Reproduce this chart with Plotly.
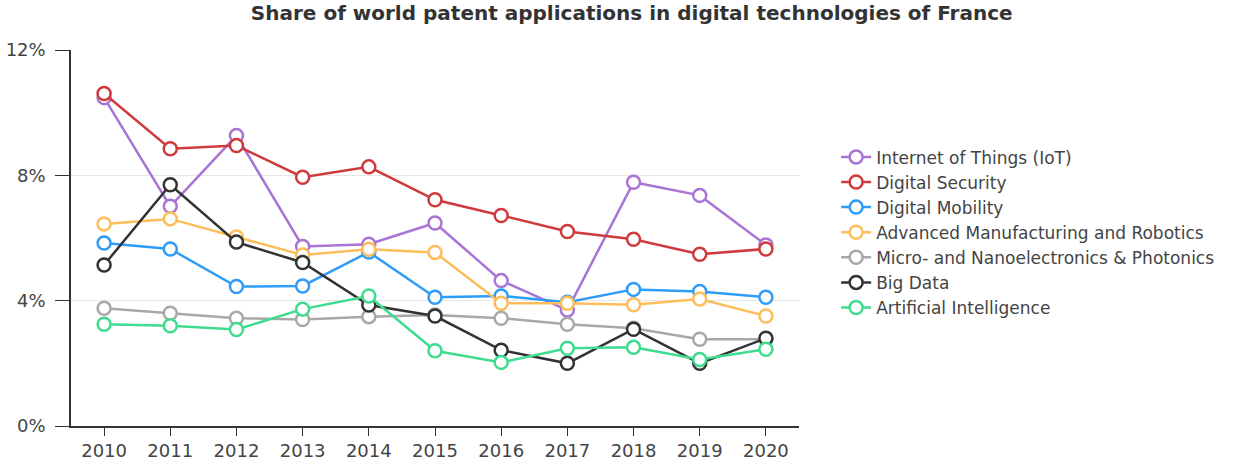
import plotly.graph_objects as go

years = [2010, 2011, 2012, 2013, 2014, 2015, 2016, 2017, 2018, 2019, 2020]

names = [
    "Internet of Things (IoT)",
    "Digital Security",
    "Digital Mobility",
    "Advanced Manufacturing and Robotics",
    "Micro- and Nanoelectronics & Photonics",
    "Big Data",
    "Artificial Intelligence",
]

iot = [10.48, 7.01, 9.27, 5.73, 5.80, 6.48, 4.64, 3.70, 7.78, 7.36, 5.78]
security = [10.61, 8.85, 8.95, 7.94, 8.27, 7.22, 6.72, 6.21, 5.96, 5.48, 5.65]
mobility = [5.84, 5.65, 4.45, 4.47, 5.55, 4.11, 4.15, 3.95, 4.36, 4.29, 4.11]
manufacturing = [6.45, 6.61, 6.03, 5.46, 5.64, 5.54, 3.92, 3.92, 3.87, 4.05, 3.51]
micro_nano = [3.76, 3.60, 3.44, 3.40, 3.49, 3.54, 3.44, 3.25, 3.12, 2.77, 2.77]
big_data = [5.14, 7.70, 5.87, 5.22, 3.86, 3.51, 2.42, 2.00, 3.09, 2.00, 2.80]
ai = [3.25, 3.20, 3.08, 3.73, 4.15, 2.40, 2.03, 2.48, 2.51, 2.12, 2.45]

y_ticks = [0, 4, 8, 12]
y_tick_labels = ["0%", "4%", "8%", "12%"]

series = [iot, security, mobility, manufacturing, micro_nano, big_data, ai]
colors = ["#a974d5", "#cf3a3c", "#2f9cf9", "#fdbd5b", "#a8a8a8", "#333333", "#3ddc8f"]

fig = go.Figure()
for name, vals, col in zip(names, series, colors):
    fig.add_trace(go.Scatter(
        x=years, y=vals, name=name, mode="lines+markers",
        line=dict(color=col, width=2.5),
        marker=dict(size=13, color="white", line=dict(color=col, width=2.5)),
    ))

font = "DejaVu Sans, Verdana, sans-serif"
fig.update_layout(
    width=1251, height=464,
    margin=dict(l=71, r=452, t=50, b=38),
    paper_bgcolor="white", plot_bgcolor="white",
    font=dict(family=font, size=18, color="#444"),
    title=dict(text="<b>Share of world patent applications in digital technologies of France</b>",
               x=0.505, xanchor="center", y=0.972, yanchor="middle",
               font=dict(size=20, color="#333")),
    legend=dict(x=1.051, xanchor="left", y=0.515, yanchor="middle",
                font=dict(size=17, color="#444"), tracegroupgap=0,
                bgcolor="rgba(0,0,0,0)"),
    showlegend=True,
)
fig.update_xaxes(range=[2009.5, 2020.5], tickvals=years, showgrid=False,
                 showline=True, linecolor="#333", linewidth=1.5,
                 ticks="outside", ticklen=8, tickcolor="#333", zeroline=False,
                 automargin=False)
fig.update_yaxes(range=[0, 12], tickvals=y_ticks, ticktext=y_tick_labels,
                 showgrid=True, gridcolor="#e6e6e6", gridwidth=1,
                 showline=True, linecolor="#333", linewidth=1.5,
                 ticks="outside", ticklen=14, tickcolor="#333", zeroline=False,
                 ticklabelstandoff=6, automargin=False)

# drop the browser's default 8px body margin so the figure sits at the page corner
fig.write_html("out.html", config={"displayModeBar": False},
               post_script="document.body.style.margin='0';")
